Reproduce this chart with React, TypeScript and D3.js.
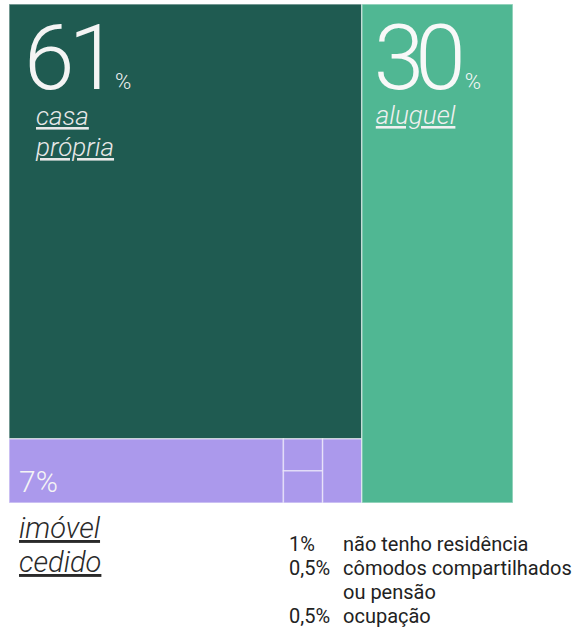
import React from "react";
import * as d3 from "d3";

const categories = [
  "casa própria",
  "aluguel",
  "imóvel cedido",
  "não tenho residência",
  "cômodos compartilhados ou pensão",
  "ocupação",
];
const values = [61, 30, 7, 1, 0.5, 0.5];
const valueLabels = ["61", "30", "7%", "1%", "0,5%", "0,5%"];
const colors = ["#1f5b51", "#50b793", "#ab99ec", "#ab99ec", "#ab99ec", "#ab99ec"];

type N = { name?: string; value?: number; idx?: number; dir?: string; children?: N[] };

const leaf = (i: number): N => ({ name: categories[i], value: values[i], idx: i });

const tree: N = {
  dir: "dice",
  children: [
    {
      dir: "slice",
      children: [
        leaf(0),
        {
          dir: "dice",
          children: [
            leaf(2),
            {
              dir: "dice",
              children: [{ dir: "slice", children: [leaf(4), leaf(5)] }, leaf(3)],
            },
          ],
        },
      ],
    },
    leaf(1),
  ],
};

const W = 578;
const H = 633;
const TX = 9;
const TY = 4;
const TW = 504;
const TH = 499;

export default function App() {
  const root = d3
    .hierarchy<N>(tree)
    .sum((d) => (d.children ? 0 : d.value || 0));
  const layout = d3
    .treemap<N>()
    .size([TW, TH])
    .tile((node: any, x0, y0, x1, y1) => {
      if (node.data.dir === "slice") d3.treemapSlice(node, x0, y0, x1, y1);
      else d3.treemapDice(node, x0, y0, x1, y1);
    });
  layout(root);
  const leaves = root.leaves() as d3.HierarchyRectangularNode<N>[];
  const byIdx = (i: number) => leaves.find((l) => l.data.idx === i)!;
  const casa = byIdx(0);
  const alug = byIdx(1);
  const ced = byIdx(2);
  const font = "Roboto, 'Noto Sans', sans-serif";
  const legendRows = [
    { v: valueLabels[3], t: "não tenho residência" },
    { v: valueLabels[4], t: "cômodos compartilhados" },
    { v: "", t: "ou pensão" },
    { v: valueLabels[5], t: "ocupação" },
  ];
  return (
    <div style={{ position: "absolute", left: 0, top: 0 }}>
      <svg width={W} height={H} style={{ display: "block" }} fontFamily={font}>
        <rect width={W} height={H} fill="#ffffff" />
        <g transform={`translate(${TX},${TY})`}>
          {leaves.map((l, i) => (
            <rect
              key={i}
              x={l.x0}
              y={l.y0}
              width={l.x1 - l.x0}
              height={l.y1 - l.y0}
              fill={colors[l.data.idx!]}
              stroke="rgba(255,255,255,0.5)"
              strokeWidth={1.5}
            />
          ))}
          {/* casa própria */}
          <text x={casa.x0 + 15} y={casa.y0 + 85} fill="#f4f4f4" fontSize={91} fontWeight={300} letterSpacing={-6}>
            {valueLabels[0]}
          </text>
          <text x={casa.x0 + 106} y={casa.y0 + 85} fill="#f2f2f2" fontSize={22} fontWeight={300}>
            %
          </text>
          <text x={casa.x0 + 27} y={casa.y0 + 121} fill="#e8e8e8" fontSize={26} fontWeight={300} fontStyle="italic" textDecoration="underline">
            {"casa "}
          </text>
          <text x={casa.x0 + 27} y={casa.y0 + 152} fill="#e8e8e8" fontSize={26} fontWeight={300} fontStyle="italic" textDecoration="underline">
            própria
          </text>
          {/* aluguel */}
          <text x={alug.x0 + 12} y={alug.y0 + 85} fill="#f8f8f8" fontSize={91} fontWeight={300} letterSpacing={-9}>
            {valueLabels[1]}
          </text>
          <text x={alug.x0 + 103} y={alug.y0 + 85} fill="#f8f8f8" fontSize={22} fontWeight={300}>
            %
          </text>
          <text x={alug.x0 + 14} y={alug.y0 + 120} fill="#f0f0f0" fontSize={26} fontWeight={300} fontStyle="italic" textDecoration="underline">
            aluguel
          </text>
          {/* cedido */}
          <text x={ced.x0 + 10} y={ced.y0 + 53} fill="#f5f5f5" fontSize={30} fontWeight={300}>
            {valueLabels[2]}
          </text>
          <text x={ced.x0 + 10} y={ced.y1 + 35} fill="#2a2a2a" fontSize={29} fontWeight={300} fontStyle="italic" textDecoration="underline">
            imóvel
          </text>
          <text x={ced.x0 + 10} y={ced.y1 + 69} fill="#2a2a2a" fontSize={29} fontWeight={300} fontStyle="italic" textDecoration="underline">
            cedido
          </text>
        </g>
        {/* legend */}
        <g transform="translate(0,551)" fontSize={20} fontWeight={400} fill="#222222">
          {legendRows.map((r, i) => (
            <g key={i} transform={`translate(0,${i * 24})`}>
              {r.v && (
                <text x={289} y={0}>
                  {r.v}
                </text>
              )}
              <text x={343} y={0}>
                {r.t}
              </text>
            </g>
          ))}
        </g>
      </svg>
    </div>
  );
}
